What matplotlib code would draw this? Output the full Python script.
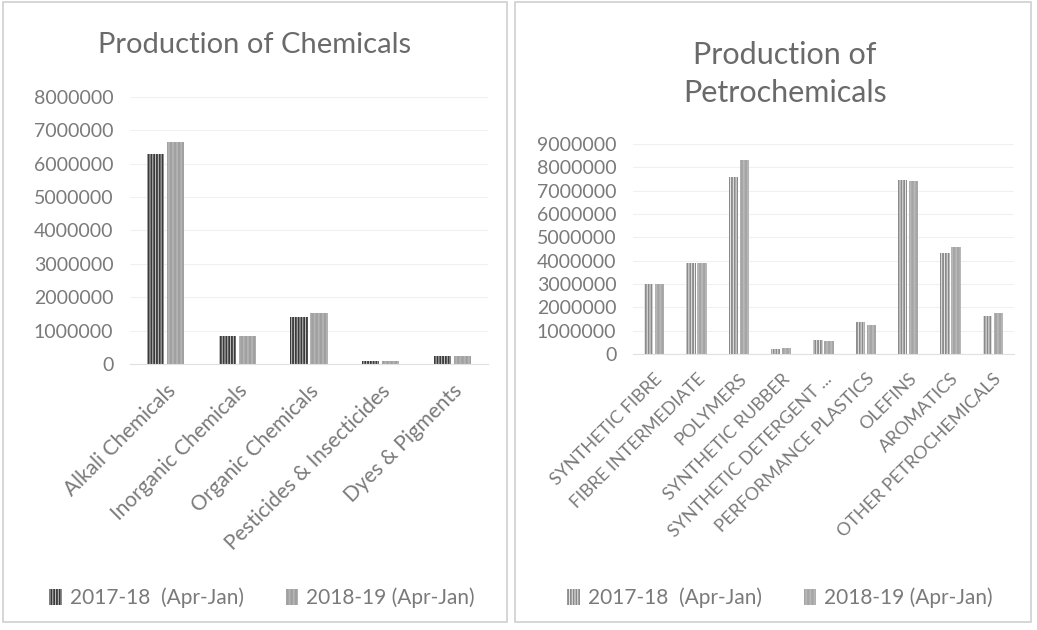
import matplotlib.pyplot as plt
from matplotlib.patches import Patch, Rectangle
import numpy as np

plt.rcParams['font.family'] = ['Lato', 'DejaVu Sans']
plt.rcParams['hatch.linewidth'] = 1.3

chem_cats = ["Alkali Chemicals", "Inorganic Chemicals", "Organic Chemicals",
             "Pesticides & Insecticides", "Dyes & Pigments"]
chem_1718 = [6300000, 850000, 1420000, 100000, 230000]
chem_1819 = [6650000, 850000, 1540000, 90000, 230000]

petro_cats = ["SYNTHETIC FIBRE", "FIBRE INTERMEDIATE", "POLYMERS", "SYNTHETIC RUBBER",
              "SYNTHETIC DETERGENT ...", "PERFORMANCE PLASTICS", "OLEFINS", "AROMATICS",
              "OTHER PETROCHEMICALS"]
petro_1718 = [3000000, 3900000, 7600000, 230000, 580000, 1380000, 7450000, 4350000, 1620000]
petro_1819 = [2980000, 3900000, 8300000, 250000, 540000, 1230000, 7400000, 4580000, 1740000]

series_labels = ["2017-18  (Apr-Jan)", "2018-19 (Apr-Jan)"]

W, H = 1037, 630
fig = plt.figure(figsize=(W / 100, H / 100), dpi=100)

txt = '#7a7a7a'


def px(x0, y0, x1, y1):
    # pixel box (top-left origin) -> figure fraction rect
    return [x0 / W, 1 - y1 / H, (x1 - x0) / W, (y1 - y0) / H]


# panel frames
for x0, x1 in [(3, 507), (515, 1031)]:
    fig.patches.append(Rectangle((x0 / W, 1 - 622 / H), (x1 - x0) / W, 620 / H,
                                 transform=fig.transFigure, fill=False,
                                 edgecolor='#d0d0d0', linewidth=1.2))


def panel(ax, cats, a, b, ymax, style_a, style_b, lab_size, w):
    x = np.arange(len(cats))
    ax.bar(x - w / 2 - 0.02, a, w, facecolor=style_a[0], hatch='||||||',
           edgecolor=style_a[1], linewidth=0)
    ax.bar(x + w / 2 + 0.02, b, w, facecolor=style_b[0], hatch='||||',
           edgecolor=style_b[1], linewidth=0)
    ax.set_xlim(-0.5, len(cats) - 0.5)
    ax.set_ylim(0, ymax)
    ax.set_yticks(np.arange(0, ymax + 1, 1000000))
    ax.set_yticklabels([str(int(v)) for v in np.arange(0, ymax + 1, 1000000)])
    ax.set_xticks(x)
    ax.set_xticklabels(cats, rotation=45, ha='right', rotation_mode='anchor')
    ax.tick_params(axis='y', length=0, labelsize=14, labelcolor=txt, pad=12)
    ax.tick_params(axis='x', length=0, labelsize=lab_size, labelcolor=txt, pad=12)
    for s in ['top', 'right', 'left']:
        ax.spines[s].set_visible(False)
    ax.spines['bottom'].set_color('#e0e0e0')
    ax.yaxis.grid(True, color='#f0f0f0', linewidth=0.8)
    ax.set_axisbelow(True)


style_l = (('#c8c8c8', '#3a3a3a'), ('#a0a0a0', '#b4b4b4'))
style_r = (('#ececec', '#8a8a8a'), ('#a5a5a5', '#b8b8b8'))

ax1 = fig.add_axes(px(130, 97, 488, 364))
panel(ax1, chem_cats, chem_1718, chem_1819, 8000000, style_l[0], style_l[1], 15, 0.24)
fig.text(255 / W, 1 - 45 / H, "Production of Chemicals", ha='center', va='center',
         fontsize=21, color='#6a6a6a')

ax2 = fig.add_axes(px(633, 144, 1014, 354))
panel(ax2, petro_cats, petro_1718, petro_1819, 9000000, style_r[0], style_r[1], 13, 0.22)
fig.text(785 / W, 1 - 74 / H, "Production of\nPetrochemicals", ha='center', va='center',
         fontsize=22, color='#6a6a6a', linespacing=1.4)

for cx, (sa, sb) in [(262, style_l), (780, style_r)]:
    handles = [Patch(facecolor=sa[0], edgecolor=sa[1], hatch='||||||', linewidth=0),
               Patch(facecolor=sb[0], edgecolor=sb[1], hatch='||||', linewidth=0)]
    fig.legend(handles, series_labels, loc='center', ncol=2,
               bbox_to_anchor=(cx / W, 1 - 598 / H), frameon=False,
               fontsize=15, labelcolor=txt, handlelength=0.6, handleheight=0.8,
               handletextpad=0.4, columnspacing=2.0)

fig.savefig("out.png", dpi=100)
